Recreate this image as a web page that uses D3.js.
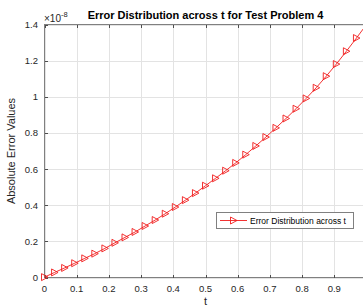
<!DOCTYPE html>
<meta charset="utf-8">
<title>Error Distribution across t</title>
<style>
body { margin: 0; background: #fff; }
text { font-family: "Liberation Sans", Arial, sans-serif; fill: #262626; }
.grid line { stroke: #e3e3e3; stroke-width: 1; shape-rendering: crispEdges; }
.frame { fill: none; stroke: #808080; stroke-width: 1; shape-rendering: crispEdges; }
.tick-mark { stroke: #4d4d4d; stroke-width: 1; shape-rendering: crispEdges; }
</style>
<body>
<div id="chart"></div>
<script src="https://d3js.org/d3.v7.min.js"></script>
<script>

// data (t and absolute error in units of 1e-8)
var tValues = [0, 0.03125, 0.0625, 0.09375, 0.125, 0.15625, 0.1875, 0.21875,
    0.25, 0.28125, 0.3125, 0.34375, 0.375, 0.40625, 0.4375, 0.46875,
    0.5, 0.53125, 0.5625, 0.59375, 0.625, 0.65625, 0.6875, 0.71875,
    0.75, 0.78125, 0.8125, 0.84375, 0.875, 0.90625, 0.9375, 0.96875, 1];
var errValues = [0.002, 0.028, 0.053, 0.079, 0.106, 0.132, 0.161, 0.192,
    0.222, 0.252, 0.285, 0.318, 0.353, 0.390, 0.428, 0.467,
    0.508, 0.549, 0.591, 0.634, 0.680, 0.728, 0.777, 0.828,
    0.880, 0.934, 0.991, 1.050, 1.114, 1.181, 1.252, 1.325, 1.400];
var xTicks = [0, 0.1, 0.2, 0.3, 0.4, 0.5, 0.6, 0.7, 0.8, 0.9, 1];
var yTicks = [0, 0.2, 0.4, 0.6, 0.8, 1, 1.2, 1.4];
var seriesName = "Error Distribution across t";

var width = 363, height = 308;
var margin = {top: 24.5, left: 44.5, bottom: 277.5, right: 366.5};

var svg = d3.select("#chart").append("svg")
    .attr("width", width)
    .attr("height", height);

var x = d3.scaleLinear().domain([0, 1]).range([margin.left, margin.right]);
var y = d3.scaleLinear().domain([0, 1.4]).range([margin.bottom, margin.top]);

// grid
var grid = svg.append("g").attr("class", "grid");
grid.selectAll(".gx").data(xTicks).enter().append("line")
    .attr("x1", function(d) { return Math.round(x(d)) + 0.5; })
    .attr("x2", function(d) { return Math.round(x(d)) + 0.5; })
    .attr("y1", margin.top).attr("y2", margin.bottom);
grid.selectAll(".gy").data(yTicks).enter().append("line")
    .attr("y1", function(d) { return Math.round(y(d)) + 0.5; })
    .attr("y2", function(d) { return Math.round(y(d)) + 0.5; })
    .attr("x1", margin.left).attr("x2", margin.right);

// axes box
svg.append("rect").attr("class", "frame")
    .attr("x", margin.left).attr("y", margin.top)
    .attr("width", margin.right - margin.left)
    .attr("height", margin.bottom - margin.top);

// inward ticks, bottom and top
var tl = 3;
svg.append("g").selectAll("line").data(xTicks).enter().append("line")
    .attr("class", "tick-mark")
    .attr("x1", function(d) { return Math.round(x(d)) + 0.5; })
    .attr("x2", function(d) { return Math.round(x(d)) + 0.5; })
    .attr("y1", margin.bottom).attr("y2", margin.bottom - tl);
svg.append("g").selectAll("line").data(xTicks).enter().append("line")
    .attr("class", "tick-mark")
    .attr("x1", function(d) { return Math.round(x(d)) + 0.5; })
    .attr("x2", function(d) { return Math.round(x(d)) + 0.5; })
    .attr("y1", margin.top).attr("y2", margin.top + tl);
svg.append("g").selectAll("line").data(yTicks).enter().append("line")
    .attr("class", "tick-mark")
    .attr("y1", function(d) { return Math.round(y(d)) + 0.5; })
    .attr("y2", function(d) { return Math.round(y(d)) + 0.5; })
    .attr("x1", margin.left).attr("x2", margin.left + tl);

// tick labels (the one at t=1 falls outside the window, as in the picture)
svg.append("g").selectAll("text")
    .data(xTicks.filter(function(d) { return x(d) < width - 8; }))
    .enter().append("text")
    .attr("x", function(d) { return x(d); })
    .attr("y", 292)
    .attr("text-anchor", "middle")
    .style("font-size", "9.5px")
    .text(function(d) { return d; });
svg.append("g").selectAll("text").data(yTicks).enter().append("text")
    .attr("x", 38)
    .attr("y", function(d) { return y(d) + 3.5; })
    .attr("text-anchor", "end")
    .style("font-size", "9.5px")
    .text(function(d) { return d; });

// exponent
var expo = svg.append("text").attr("x", 44).attr("y", 22).style("font-size", "10px");
expo.append("tspan").text("\u00d710");
expo.append("tspan").attr("dy", -5).style("font-size", "7.5px").text("-8");

// axis labels and title
svg.append("text")
    .attr("x", x(0.5)).attr("y", 305)
    .attr("text-anchor", "middle")
    .style("font-size", "11px")
    .text("t");
svg.append("text")
    .attr("transform", "translate(15," + y(0.7) + ") rotate(-90)")
    .attr("text-anchor", "middle")
    .style("font-size", "11px")
    .text("Absolute Error Values");
svg.append("text")
    .attr("x", x(0.5)).attr("y", 19)
    .attr("text-anchor", "middle")
    .style("font-size", "11px")
    .style("font-weight", "bold")
    .style("fill", "#000")
    .text("Error Distribution across t for Test Problem 4");

// series
var pts = tValues.map(function(t, i) { return [t, errValues[i]]; });
var line = d3.line()
    .x(function(d) { return x(d[0]); })
    .y(function(d) { return y(d[1]); });

svg.append("path")
    .datum(pts)
    .attr("fill", "none")
    .attr("stroke", "#f01c1c")
    .attr("stroke-width", 0.9)
    .attr("d", line);

var tri = "M-3,-3.5L-3,3.5L3.5,0Z";
svg.append("g").selectAll("path").data(pts).enter().append("path")
    .attr("d", tri)
    .attr("transform", function(d) { return "translate(" + x(d[0]) + "," + y(d[1]) + ")"; })
    .attr("fill", "none")
    .attr("stroke", "#f01c1c")
    .attr("stroke-width", 0.9);

// legend
var lg = svg.append("g");
lg.append("rect")
    .attr("x", 216.5).attr("y", 212.5)
    .attr("width", 137).attr("height", 16)
    .attr("fill", "#fff")
    .attr("stroke", "#808080")
    .attr("stroke-width", 1);
lg.append("line")
    .attr("x1", 220).attr("x2", 247)
    .attr("y1", 220.5).attr("y2", 220.5)
    .attr("stroke", "#f01c1c").attr("stroke-width", 0.9);
lg.append("path")
    .attr("d", tri)
    .attr("transform", "translate(233.5,220.5)")
    .attr("fill", "none")
    .attr("stroke", "#f01c1c").attr("stroke-width", 0.9);
lg.append("text")
    .attr("x", 250).attr("y", 224)
    .style("font-size", "8.5px")
    .style("fill", "#000")
    .text(seriesName);

</script>
</body>
